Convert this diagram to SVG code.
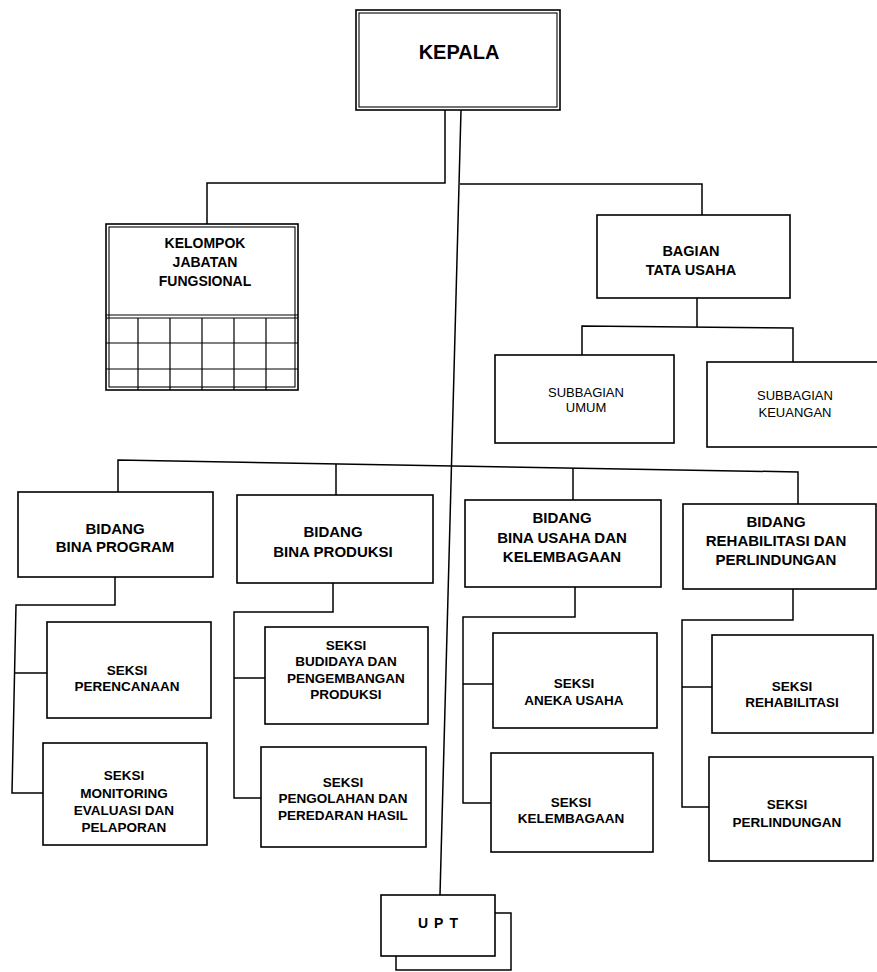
<svg xmlns="http://www.w3.org/2000/svg" width="877" height="972" viewBox="0 0 877 972">
<style>
.bg{fill:#fff}
.box{fill:#fff;stroke:#000;stroke-width:1.6}
.in{fill:none;stroke:#000;stroke-width:1.1}
.ln{fill:none;stroke:#000;stroke-width:1.5}
.g{fill:none;stroke:#000;stroke-width:1.2}
text{font-family:"Liberation Sans",Arial,sans-serif;text-anchor:middle;fill:#000}
.t15{font-size:15px;font-weight:bold}
.t14{font-size:14px;font-weight:bold}
.t135{font-size:13.5px;font-weight:bold}
.t13{font-size:13px}
</style>
<rect class="bg" x="0" y="0" width="877" height="972"/>
<g id="connectors">
<path class="ln" d="M445,110 V183 H207 V224"/>
<path class="ln" d="M461,110 L440,895"/>
<path class="ln" d="M460,184 H702 V215"/>
<path class="ln" d="M697,298 V327"/>
<path class="ln" d="M582,355 V326 L793,328 V362"/>
<path class="ln" d="M118,492 V460 L798,472 V504"/>
<path class="ln" d="M336,495 V464"/>
<path class="ln" d="M573,500 V468"/>
<path class="ln" d="M115,577 V605 H16 L12,793 H43"/>
<path class="ln" d="M15,673 H47"/>
<path class="ln" d="M333,583 V612 H234 V798 H261"/>
<path class="ln" d="M234,678 H265"/>
<path class="ln" d="M575,587 V617 H463 V803 H491"/>
<path class="ln" d="M463,684 H493"/>
<path class="ln" d="M793,588 V620 H682 V807 H709"/>
<path class="ln" d="M682,687 H712"/>
<path class="ln" d="M396,956 V970 H511 V913 H495"/>
</g>
<g id="kepala">
<rect class="box" x="356" y="10" width="204" height="100"/>
<rect class="in" x="359" y="13" width="198" height="94"/>
<text class="t15" x="459" y="59" style="font-size:20px">KEPALA</text>
</g>
<g id="kelompok">
<rect class="box" x="106" y="224" width="192" height="166"/>
<rect class="in" x="109" y="227" width="186" height="160"/>
<path class="g" d="M106,315 H298 M106,318 H298 M106,343 H298 M106,369 H298 M138,318 V390 M170,318 V390 M202,318 V390 M234,318 V390 M266,318 V390"/>
<text class="t14" x="205" y="248">KELOMPOK</text>
<text class="t14" x="205" y="267">JABATAN</text>
<text class="t14" x="205" y="286">FUNGSIONAL</text>
</g>
<g id="bagian">
<rect class="box" x="597" y="215" width="193" height="83"/>
<text class="t14" x="691" y="256" style="font-size:14.5px">BAGIAN</text>
<text class="t14" x="691" y="275" style="font-size:14.5px">TATA USAHA</text>
</g>
<g id="sub-umum">
<rect class="box" x="495" y="355" width="179" height="88"/>
<text class="t13" x="586" y="397">SUBBAGIAN</text>
<text class="t13" x="586" y="412">UMUM</text>
</g>
<g id="sub-keuangan">
<rect class="box" x="707" y="362" width="180" height="85"/>
<text class="t13" x="795" y="400">SUBBAGIAN</text>
<text class="t13" x="795" y="417">KEUANGAN</text>
</g>
<g id="bid-program">
<rect class="box" x="18" y="492" width="195" height="85"/>
<text class="t15" x="115" y="534">BIDANG</text>
<text class="t15" x="115" y="552">BINA PROGRAM</text>
</g>
<g id="bid-produksi">
<rect class="box" x="237" y="495" width="196" height="88"/>
<text class="t15" x="333" y="537">BIDANG</text>
<text class="t15" x="333" y="557">BINA PRODUKSI</text>
</g>
<g id="bid-usaha">
<rect class="box" x="465" y="500" width="196" height="87"/>
<text class="t15" x="562" y="523">BIDANG</text>
<text class="t15" x="562" y="543">BINA USAHA DAN</text>
<text class="t15" x="562" y="562">KELEMBAGAAN</text>
</g>
<g id="bid-rehab">
<rect class="box" x="683" y="504" width="193" height="85"/>
<text class="t15" x="776" y="527">BIDANG</text>
<text class="t15" x="776" y="546">REHABILITASI DAN</text>
<text class="t15" x="776" y="565">PERLINDUNGAN</text>
</g>
<g id="seksi-perencanaan">
<rect class="box" x="47" y="622" width="164" height="96"/>
<text class="t135" x="127" y="675">SEKSI</text>
<text class="t135" x="127" y="691">PERENCANAAN</text>
</g>
<g id="seksi-monitoring">
<rect class="box" x="43" y="743" width="164" height="102"/>
<text class="t135" x="124" y="780">SEKSI</text>
<text class="t135" x="124" y="798">MONITORING</text>
<text class="t135" x="124" y="815">EVALUASI DAN</text>
<text class="t135" x="124" y="832">PELAPORAN</text>
</g>
<g id="seksi-budidaya">
<rect class="box" x="265" y="627" width="163" height="97"/>
<text class="t135" x="346" y="650">SEKSI</text>
<text class="t135" x="346" y="666">BUDIDAYA DAN</text>
<text class="t135" x="346" y="683">PENGEMBANGAN</text>
<text class="t135" x="346" y="699">PRODUKSI</text>
</g>
<g id="seksi-pengolahan">
<rect class="box" x="261" y="747" width="165" height="100"/>
<text class="t135" x="343" y="787">SEKSI</text>
<text class="t135" x="343" y="803">PENGOLAHAN DAN</text>
<text class="t135" x="343" y="820">PEREDARAN HASIL</text>
</g>
<g id="seksi-aneka">
<rect class="box" x="493" y="633" width="164" height="95"/>
<text class="t135" x="574" y="688">SEKSI</text>
<text class="t135" x="574" y="705">ANEKA USAHA</text>
</g>
<g id="seksi-kelembagaan">
<rect class="box" x="491" y="753" width="162" height="99"/>
<text class="t135" x="571" y="807">SEKSI</text>
<text class="t135" x="571" y="823">KELEMBAGAAN</text>
</g>
<g id="seksi-rehabilitasi">
<rect class="box" x="712" y="635" width="161" height="98"/>
<text class="t135" x="792" y="691">SEKSI</text>
<text class="t135" x="792" y="707">REHABILITASI</text>
</g>
<g id="seksi-perlindungan">
<rect class="box" x="709" y="757" width="164" height="104"/>
<text class="t135" x="787" y="809">SEKSI</text>
<text class="t135" x="787" y="827">PERLINDUNGAN</text>
</g>
<g id="upt">
<rect class="box" x="381" y="895" width="114" height="61"/>
<text class="t14" x="441" y="928" style="letter-spacing:6px">UPT</text>
</g>
</svg>
